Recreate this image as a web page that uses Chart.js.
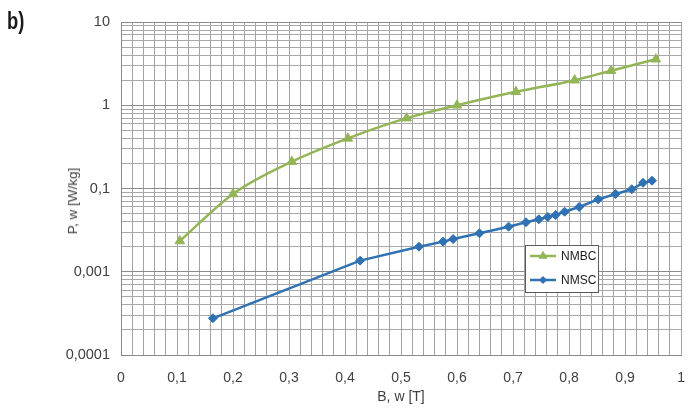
<!DOCTYPE html>
<html>
<head>
<meta charset="utf-8">
<script src="https://cdn.jsdelivr.net/npm/chart.js@4/dist/chart.umd.min.js"></script>
<style>
  html, body { margin: 0; padding: 0; background: #ffffff; }
  #wrap { position: relative; width: 700px; height: 411px; overflow: hidden; }
  #c { position: absolute; left: 0; top: 0; }
  .lbl { position: absolute; font-family: "Liberation Sans", Arial, sans-serif; color: #404040; white-space: nowrap; }
  #panel { left: 7px; top: 8px; font-family: "Liberation Sans Narrow", "Liberation Sans", sans-serif; font-weight: bold; font-size: 23px; line-height: 26px; color: #1a1a1a; transform: scaleX(0.8); transform-origin: left top; }
  #xt { left: 401px; top: 388px; font-size: 14px; line-height: 16px; transform: translateX(-50%); }
  #yt { left: 73px; top: 201px; font-size: 13.5px; line-height: 16px; transform: translate(-50%, -50%) rotate(-90deg); }
</style>
</head>
<body>
<div id="wrap">
  <canvas id="c" width="700" height="411"></canvas>
  <div class="lbl" id="panel">b)</div>
  <div class="lbl" id="xt">B, w [T]</div>
  <div class="lbl" id="yt">P, w [W/kg]</div>
</div>
<script>
// ---- data ----
const nmbcB = [0.105, 0.2, 0.305, 0.405, 0.51, 0.6, 0.705, 0.81, 0.875, 0.955];
const nmbcP = [0.0234, 0.086, 0.21, 0.40, 0.70, 1.0, 1.45, 2.0, 2.6, 3.57];
const nmscB = [0.164, 0.427, 0.532, 0.575, 0.593, 0.64, 0.692, 0.723, 0.746, 0.762, 0.776, 0.792, 0.818, 0.852, 0.883, 0.912, 0.932, 0.948];
const nmscP = [0.00276, 0.0136, 0.020, 0.023, 0.0247, 0.029, 0.0348, 0.0393, 0.0427, 0.0455, 0.048, 0.0526, 0.060, 0.074, 0.086, 0.098, 0.117, 0.124];
const seriesNames = ['NMBC', 'NMSC'];
const xTickLabels = ['0', '0,1', '0,2', '0,3', '0,4', '0,5', '0,6', '0,7', '0,8', '0,9', '1'];
// labels printed at the decade grid lines, bottom to top (as in the original)
const yTickLabels = ['0,0001', '0,001', '0,1', '1', '10'];
const yDecades = [0.001, 0.01, 0.1, 1, 10];

const GREEN = '#93b556';
const BLUE = '#2f72b3';

const toXY = (xs, ys) => xs.map((x, i) => ({ x: x, y: ys[i] }));

const legendBox = {
  id: 'legendBox',
  afterDatasetsDraw(chart) {
    const ctx = chart.ctx;
    const a = chart.chartArea;
    const bx = a.left + 404, by = a.top + 223, bw = 73, bh = 47;
    ctx.save();
    ctx.fillStyle = '#ffffff';
    ctx.fillRect(bx, by, bw, bh);
    ctx.strokeStyle = '#5a5a5a';
    ctx.lineWidth = 1;
    ctx.strokeRect(bx + 0.5, by + 0.5, bw, bh);
    chart.data.datasets.forEach((ds, i) => {
      const cy = by + 11 + i * 24;
      ctx.strokeStyle = ds.borderColor;
      ctx.lineWidth = 2.5;
      ctx.beginPath();
      ctx.moveTo(bx + 5, cy);
      ctx.lineTo(bx + 31, cy);
      ctx.stroke();
      ctx.fillStyle = ds.borderColor;
      ctx.strokeStyle = ds.borderColor;
      ctx.lineWidth = 1;
      Chart.helpers.drawPoint(ctx, { pointStyle: ds.pointStyle, radius: ds.pointRadius - 1, rotation: 0, borderWidth: 1 }, bx + 18, cy);
      ctx.fillStyle = '#1a1a1a';
      ctx.font = '12px "Liberation Sans", Arial, sans-serif';
      ctx.textBaseline = 'middle';
      ctx.textAlign = 'left';
      ctx.fillText(ds.label, bx + 36, cy + 1);
    });
    ctx.restore();
  }
};

new Chart(document.getElementById('c'), {
  type: 'scatter',
  data: {
    datasets: [
      {
        label: seriesNames[0],
        data: toXY(nmbcB, nmbcP),
        showLine: true,
        borderColor: GREEN,
        backgroundColor: GREEN,
        borderWidth: 2.5,
        tension: 0.4,
        cubicInterpolationMode: 'monotone',
        pointStyle: 'triangle',
        pointRadius: 5.5,
        pointBorderWidth: 1
      },
      {
        label: seriesNames[1],
        data: toXY(nmscB, nmscP),
        showLine: true,
        borderColor: BLUE,
        backgroundColor: BLUE,
        borderWidth: 2.5,
        tension: 0,
        pointStyle: 'rectRot',
        pointRadius: 4.5,
        pointBorderWidth: 1
      }
    ]
  },
  options: {
    responsive: false,
    animation: false,
    devicePixelRatio: 1,
    layout: { padding: { top: 22, right: 17, left: 0, bottom: 0 } },
    plugins: { legend: { display: false }, tooltip: { enabled: false } },
    scales: {
      x: {
        type: 'linear',
        min: 0, max: 1,
        afterBuildTicks(scale) {
          const t = [];
          for (let i = 0; i <= 50; i++) t.push({ value: Math.round(i * 2) / 100 });
          scale.ticks = t;
        },
        afterFit(scale) { scale.height = 56; },
        ticks: {
          autoSkip: false, maxRotation: 0, padding: 15,
          color: '#404040',
          font: { family: '"Liberation Sans", Arial, sans-serif', size: 14 },
          callback(v, i) { return i % 5 === 0 ? xTickLabels[i / 5] : ''; }
        },
        grid: { color: '#a3a3a3', lineWidth: 1, drawTicks: false },
        border: { display: true, color: '#8a8a8a', width: 1 }
      },
      y: {
        type: 'logarithmic',
        min: 0.001, max: 10,
        afterBuildTicks(scale) {
          const t = [];
          for (let d = 0; d < yDecades.length; d++) {
            const base = yDecades[d];
            const top = d === yDecades.length - 1 ? 1 : 9;
            for (let m = 1; m <= top; m++) t.push({ value: base * m, major: m === 1 });
          }
          scale.ticks = t;
        },
        afterFit(scale) { scale.width = 121; },
        ticks: {
          autoSkip: false, padding: 11,
          color: '#404040',
          font: { family: '"Liberation Sans", Arial, sans-serif', size: 14.5 },
          callback(v) {
            const k = yDecades.findIndex(d => Math.abs(d - v) / d < 1e-6);
            return k >= 0 ? yTickLabels[k] : '';
          }
        },
        grid: {
          color: (c) => (c.tick && c.tick.major) ? '#8c8c8c' : '#a8a8a8',
          lineWidth: 1, drawTicks: false
        },
        border: { display: true, color: '#8a8a8a', width: 1 }
      }
    }
  },
  plugins: [legendBox]
});
</script>
</body>
</html>
